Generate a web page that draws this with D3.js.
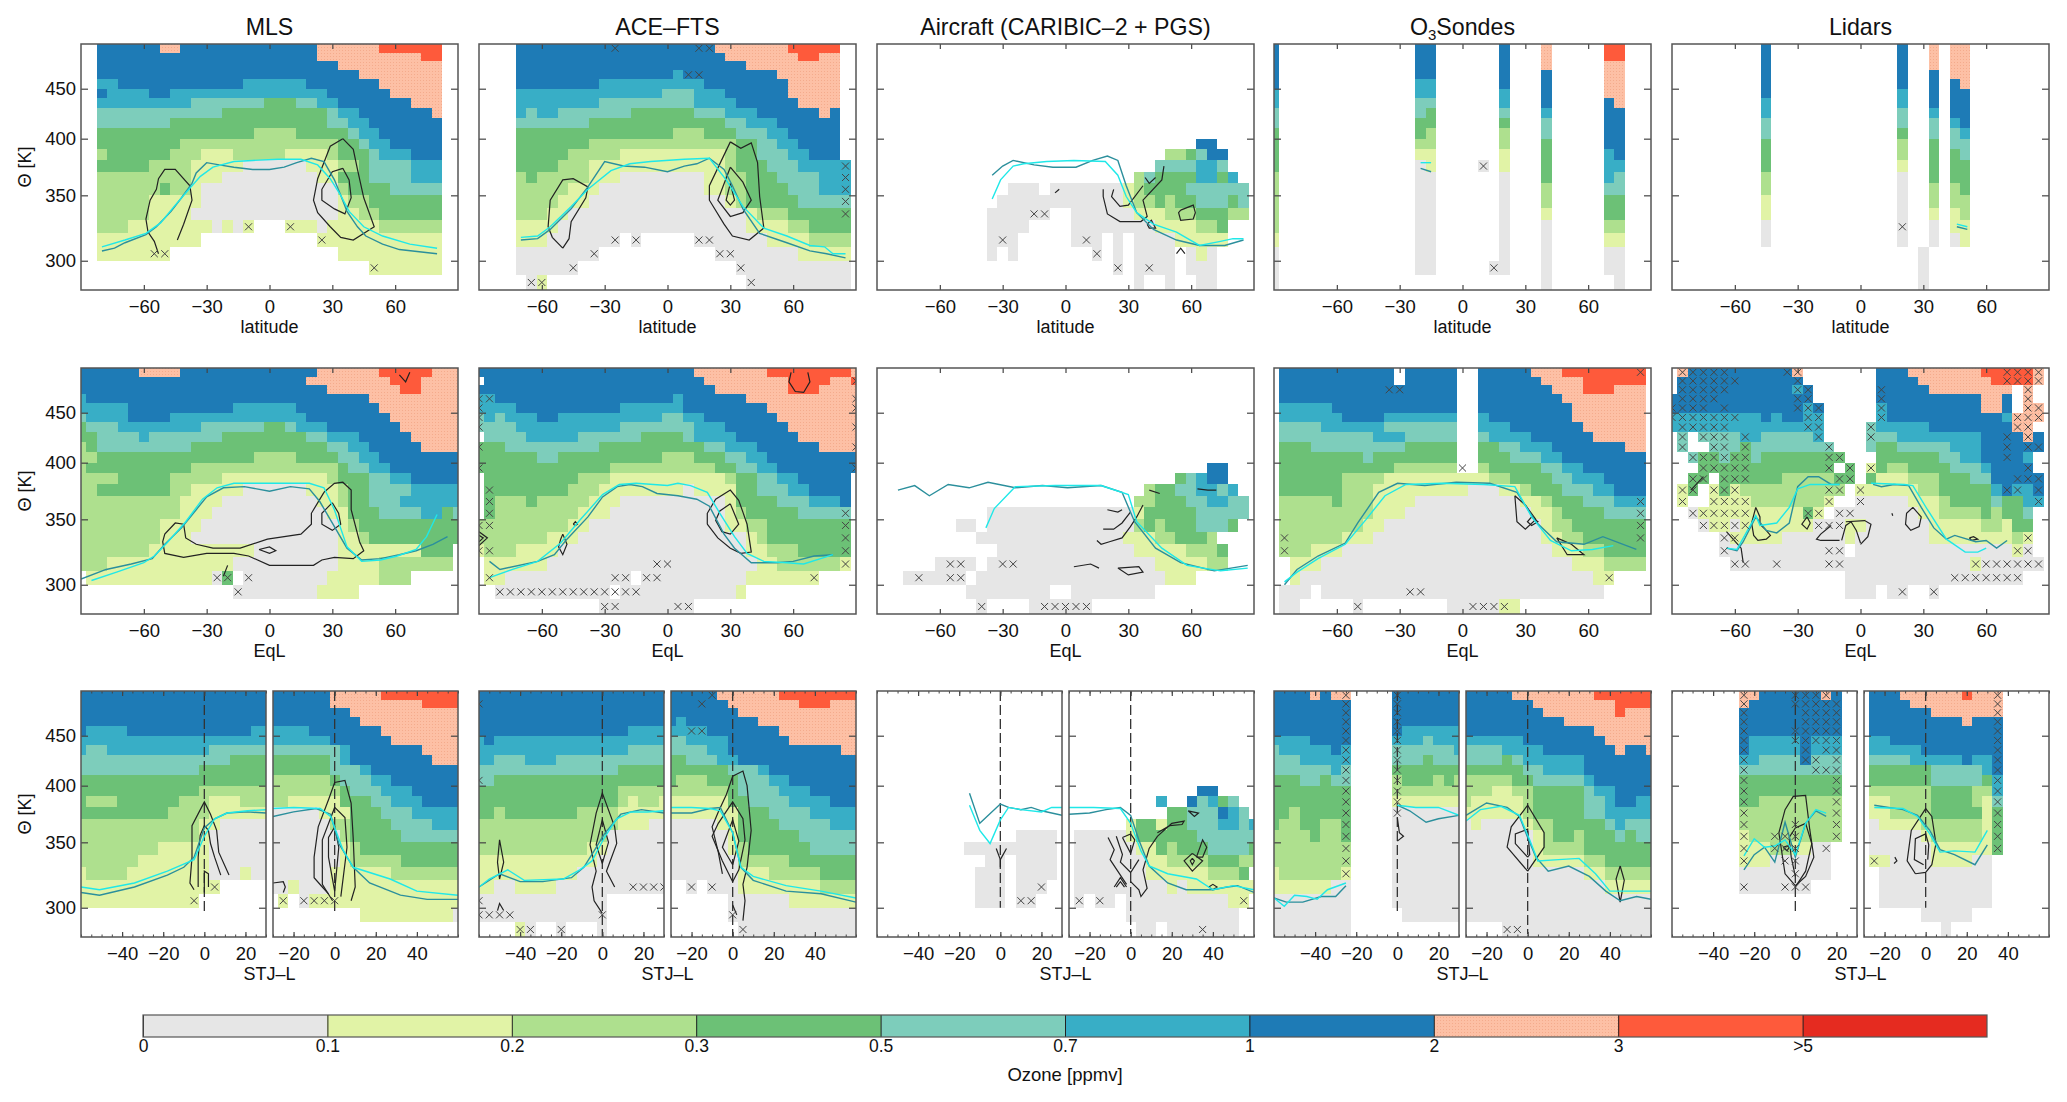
<!DOCTYPE html>
<html>
<head>
<meta charset="utf-8">
<script src="https://cdn.jsdelivr.net/npm/d3@7"></script>
<style>
  html, body { margin: 0; background: #fff; }
  svg text { font-family: "Liberation Sans", Arial, sans-serif; fill: #111; }
</style>
</head>
<body>
<div id="chart"></div>
<script>
// ozone bins, colours and bar labels
var binLabels = ["0", "0.1", "0.2", "0.3", "0.5", "0.7", "1", "2", "3", ">5"];
var binColors = ["#e6e6e6", "#e1f3a6", "#aee08e", "#6cc176", "#7dcdbb", "#38aec6", "#1e7bb6", "#fdc0a5", "#fe5a3b", "#e52b20"];
var latTicks = [-60, -30, 0, 30, 60];
var thetaTicks = [300, 350, 400, 450];
var thetaRows = d3.range(495, 280, -10);

// grids: one string per theta row (495 K at top), "6x13" = bin 6 for 13 cells, "_" = no data
var mlsLat = ["6x6 7x2 6x13 7x6 8x6","6x21 7x10 8x2","6x23 7x10","6x25 7x8","5x2 6x12 5x6 6x7 7x6","6 5x4 6x2 5x15 6x6 7x5","5x9 4x7 3x3 4x2 5x2 6x7 7x3","4x12 3x10 4 5x2 6x7 7","4x7 3x15 4x2 5x2 6x7","3x15 2x4 3x5 4 5x2 6x6","3x8 2x15 3x2 4 5x2 6x5","2 3x6 2x3 1x3 2x5 1x4 2 3x3 4 5x3 6x3","3x5 2x4 1x5 0x6 1x3 2x2 3 4x4 5x3","2x9 1x3 0x9 1x2 3x3 4x4 5x3","2x6 3 2x2 1 0x13 2 3x4 4x5","2x5 1x5 0x13 1 2x2 3x7","2x5 1x4 0x14 1x2 2x2 3x6","2x3 1x8 0 1 0 1 _x3 1x3 0 1x5 2x6","1x10 _x11 1x12","1x7 _x16 1x10","_x26 1x7",""];
var aceLat = ["6x19 7x7 8x5","6x20 7x7 8x2 7x2","6x22 7x9","6x15 5 6x9 7x6","6x8 5x10 6x8 7x5","5x14 4x3 5x3 6x6 7x5","5x8 4x9 5x4 6x6 7x4","5 4 5x2 4x7 3x6 4x3 5x3 6x6 7 6","4x7 3x13 4x2 5x3 6x6","3x15 2x3 3x3 4x3 5x2 6x5","3x7 2x14 3x2 4x2 5x2 6x4","3x5 2x5 1x10 2 3x2 4x3 5x2 6x3","3x4 2x3 1x13 2 3x3 4x3 5x4 5","2 3 2x5 1x3 0x8 1x2 2x2 3x3 4x4 5x3","2x5 1x3 0x10 1x2 2x2 3x4 4x3 5x3","2x4 1x3 0x13 1 2 3x5 4x5","2x3 1x2 0x17 1 2x3 3x6","1x4 0x18 1x4 2x2 3x4","1x3 0x7 _ 0 _x5 0x7 1x4 2x4","0x8 _x11 0x8 1x5","0x6 _x15 0x11","_ 0 1 _x19 0x10"];
var aircraftLat = ["","","","","","","","","","","_x20 6x2","_x17 2x2 3 4 6x2","_x16 4x4 5x2 4","_x14 2 4 3x4 5x2 3 5","_x2 0x3 _ 0x7 1 2 3x4 4x6","_ 0x12 1 2x2 3 2 3x2 4x3 3 4","0x6 _x2 0x6 1x3 2x3 3x3 2x2","0x4 _x4 0x8 1x4 2x2 3","0x3 _x5 0x3 _ 0 _ 0x4 1x5","0 _ 0 _x7 0 _ 0 _ 0x4 _ 0 1 0","_x12 0 _ 0x4 _ 0x3","_x14 0 _x2 0 _x2 0x2"];
var sondesLat = ["6 _x13 6x2 _x6 6 _x3 7 _x5 8x2","6 _x13 6x2 _x6 6 _x3 7 _x5 8x2","6 _x13 6x2 _x6 6 _x3 7 _x5 7x2","6 _x13 6x2 _x6 6 _x3 6 _x5 7x2","6 _x13 5x2 _x6 6 _x3 6 _x5 7x2","5 _x13 5x2 _x6 5 _x3 6 _x5 7x2","5 _x13 4x2 _x6 5 _x3 6 _x5 6 7","4 _x13 4 3 _x6 4 _x3 5 _x5 6x2","4 _x13 3x2 _x6 3 _x3 4 _x5 6x2","3 _x13 3 2 _x6 2 _x3 4 _x5 6x2","3 _x13 2x2 _x6 2 _x3 3 _x5 6x2","3 _x13 1x2 _x6 1 _x3 3 _x5 5 6","3 _x13 0 1 _x4 0 _ 1 _x3 3 _x5 5x2","2 _x13 0x2 _x6 0 _x3 3 _x5 5 4","2 _x13 0x2 _x6 0 _x3 2 _x5 4x2","2 _x13 0x2 _x6 0 _x3 2 _x5 3x2","2 _x13 0x2 _x6 0 _x3 1 _x5 3x2","2 _x13 0x2 _x6 0 _x3 0 _x5 2x2","1 _x13 0x2 _x6 0 _x3 0 _x5 1x2","0 _x13 0x2 _x6 0 _x3 0 _x5 0x2","0 _x13 0x2 _x5 0x2 _x3 0 _x5 0x2","0 _x25 0 _x6 0"];
var lidarLat = ["6 _x12 6 _x2 7 _ 7x2","6 _x12 6 _x2 7 _ 7x2","6 _x12 6 _x2 7 _ 7x2","6 _x12 6 _x2 6 _ 7x2","6 _x12 6 _x2 6 _ 6 7","6 _x12 5 _x2 6 _ 6x2","5 _x12 5 _x2 6 _ 6x2","5 _x12 4 _x2 5 _ 6x2","4 _x12 4 _x2 4 _ 5 6","4 _x12 3 _x2 4 _ 4 5","3 _x12 2 _x2 3 _ 4x2","3 _x12 2 _x2 3 _ 3 4","3 _x12 1 _x2 3 _ 3x2","2 _x12 0 _x2 3 _ 3x2","2 _x12 0 _x2 2 _ 2 3","1 _x12 0 _x2 2 _ 2x2","1 _x12 0 _x2 1 _ 1 2","0 _x12 0 _x2 0 _ 1x2","0 _x12 0 _x2 0 _ 0 1","_x15 0","_x15 0","_x15 0"];

var mlsEql = ["6x6 7x4 6x13 7x6 8x5 7x3","6x22 7x8 8x3 7x4","6x24 7x7 8x2 7x4","5 6x27 7x9","5x5 6x10 5x6 6x8 7x8","4 5x4 6x4 5x13 6x8 7x7","3 4x3 5x8 4x6 3x2 4 5x3 6x7 7x6","3x2 4x4 5 4x7 3x8 4x2 5x3 6x5 7x5","2 3 4x9 3x13 4x2 5x2 6x5 7x4","2x2 3x15 2x4 3x4 4x2 5x2 6x8","2 3x10 2x14 3 4x2 5x2 6x7","2x4 3x5 2x5 1x10 2 3x3 4x2 5x2 6x5","2x2 3x7 2x2 1x5 0x6 1x3 2 3x2 4x4 5x5","2x10 1x4 0x9 1x2 2 3x2 4x3 5x6","2x10 1x3 0x11 1x2 3x3 4x4 5x2 3 4","2x8 1x4 0x13 1 2 3x10","2x8 1x3 0x14 1x2 2 3x9","2x7 1x10 0x8 1x8 3x3 _","2x3 1x12 0x10 1x4 2x7 _","_ 1x12 0 3 _ 0x8 1x5 2x3 _x5","_x15 0x8 1x4",""];
var aceEql = ["6x21 7x7 8x8 7","_ 6x21 7x8 8x4 7x2 8","6x23 7x7 8x3 7x4","5x2 6x17 5 6x6 7x11","5x4 6x10 5x6 6x8 7x9","4 5 4 5x3 6x2 5x10 4x2 5x2 6x7 7x8","4x4 5x10 4x7 5x3 6x6 7x7","_ 4x4 5x5 4x6 3x4 4 5x4 6x6 7x6","3x3 4x9 3x10 4x2 5x3 6x6 7x4","3x6 4x2 3x10 2x3 3x3 4x2 5x2 6x9","3x13 2x10 3x2 4x2 5x2 6x8","_ 3x9 2x3 1x11 2 3x2 4x2 5x2 6x5 _","_ 3x8 2x3 1x8 0 1x4 3x2 4x3 5x2 6x4 _","_ 3 2x3 3 2x5 1x3 0x10 1 3x4 4x3 5x3 6 _","_ 3 2x8 1x3 0x11 1 2 3x5 4x5 _","2x9 1x2 0x13 1x2 2x2 3x8 _","2x7 1x3 0x16 1 2 3x8 _","1 2x3 1x4 0x18 1x2 2x3 3x5 _","_ 1x6 0x20 1x2 2x6 1 _","_ 1x2 0x12 _ 0x10 1x7","_x2 0x11 _ 0x11 1","_x12 0x9"];
var aircraftEql = ["","","","","","","","","","","_x29 6x2","_x26 3 4 5 6x2","_x23 2 3x2 4x2 5x2 4 5","_x22 2x2 3x3 4x2 5x2 4x2","_x8 0x14 1 3x5 4x5","_x5 0x2 _ 0x14 2 3 2 3x3 4x3 3","_x7 0x14 1x3 2x2 3x3 2","_x9 0x13 1x5 2x3 3","_x3 0x4 _ 0x16 1x5 2x2","0x6 _ 0x18 1x3","_x6 0x8 _x2 0x8","_x7 0 _x4 0x6"];
var sondesEql = ["6x11 _ 6x5 _x2 6x5 7x3 8x8","6x11 _ 6x5 _x2 6x6 7x4 8x6","6x17 _x2 6x7 7x3 8x3 7x3","6x17 _x2 6x8 7x8","5x5 6x12 _x2 6x9 7x7","5x6 6x4 5x7 _x2 5 6x8 7x7","4x4 5x6 4x7 _x2 5x3 6x7 7x6","4x9 5x3 4x5 _x2 4 5x4 6x6 7x5","3x3 4x9 3x5 _x2 3x2 4x2 5x3 6x7 7x2","3x8 4 3x8 _x2 3x3 4x3 5x2 6x8","3x11 2x6 _x2 2 3x5 4x2 5x2 6x6","3x6 2x4 1x10 2x2 3x4 4x2 5x3 6x4","3x6 2x3 1x9 0x3 1x2 2 3x3 4x3 5x2 6x3","2x5 3 2x3 1x4 0x10 1x2 2 3x3 4x3 5x3","2x9 1x3 0x12 1x2 2 3x4 4x4","2x8 1x2 0x15 1 2x2 3x7","2x6 1x3 0x16 1x2 2x2 3x6","2x3 1x3 0x20 1x3 2x2 3x4","_ 1x3 0x24 1x3 2x4","_ 1 0x28 1x2","0x3 _ 0x27","0x2 _x5 0 _x8 0x5 1x2"];
var lidarEql = ["_ 7 6x10 7 _x7 6x3 7x7 8x5 7 _","_ 6x12 _x7 6x4 7x7 8x4 7 _","_ 6x11 5 6 _x6 6x5 7x8 _ 7 _x2","6x14 _x6 6x10 7x2 6 _ 7 _x2","6x13 5 6 _x5 5 6x9 7x2 6 _ 7x2 _","5x9 6 5 6x2 5x2 _x5 5 6x11 5 7x3 _","5x15 _x4 4 5x5 6x8 7x2 _x2","_ 4 _ 4x4 5x2 4x5 5 _x4 4x3 5x8 6x4 7 6 _","_ 4 _x2 4x3 3 4x7 4 _x3 4 3x2 4x5 5x3 6x5 6 _","_x2 4 3x2 4 3x2 4 3x6 3x2 _x3 3x6 4x2 5x2 6x4 5 _x2","_x3 3x6 3x7 _ 3 _ 1 3 2x2 3x4 4x3 5 6x4 _x2","_x2 3x2 _ 3x6 2x5 3x2 _ 3 1x3 2x3 3x3 4x2 6x4 6 _","_ 1 3 _ 1 3 1 2x8 2x2 _ 1x6 2x2 3x5 5 6 5x2 6 _","_ 1 _x2 1x4 2x7 1 _x2 0x5 1x3 2 3x4 4 3x2 5x2 _","_x2 0 1x4 1x6 3 1 _ 0x8 1x2 2x4 3 2 3x2 4 _x2","_x3 0 1x2 0 1x7 0x3 1x2 0x6 1x5 2x2 1 3x2 _x2","_x5 0 1x5 0x6 1 0x7 1x7 1 2 1 _x2","_x5 0x12 _ 0x15 1 0 _x2","_x6 0x23 1 0x6 _","_x17 0x17","_x17 0x3 _ 0x2 _x2 0",""];

var mlsStjS = ["6x19","6x19","6x19","6x19","6 5x4 6x12 5x2","5x19","5 4x2 5x10 4x6","4x15 3x4","4x12 3x7","3x19","3x12 2x7","3 2x3 3x6 2x3 1x3 2x3","3x9 2x4 1x6","2x12 1x2 0x5","2x12 1 0x6","2x8 1x4 1 0x6","2x6 1x6 1 0x6","1 2x4 1x8 0x3 1 0x2","1x14","1x12","",""];
var mlsStjN = ["6x6 7x5 8x8","6x6 7x9 8x4","6x8 7x11","6x9 7x10","5x4 6x7 7x8","5x6 6x6 7x7","4x7 5 6x7 7x4","3x6 4 5 6x8 7x3","3x6 4x3 5 6x9","2x6 3 4x3 5x2 6x7","2x6 2 3 4x3 5x3 6x5","2x2 1x4 1 3x3 4x2 5x3 6x4","0x5 1x3 3x3 4x3 5x5","0x6 2x2 3x4 4x4 5x3","0x7 2 3x5 4x6","0x7 1 2 3x10","0x7 1 2x5 3x6","0x6 1x6 2x7","0x2 1 0x3 1x13","_ 1 _ 0 1x15","_x9 1x9 0",""];
var aceStjS = ["6x19","6x19","6x19","6x19","6x15 5x4","5 6 5x17","5x15 4x4","5x2 4x3 5x3 4x11","4x14 3x5","4x2 3x17","3x14 2x5","3x14 2 1 2x2 1","3x2 2 3x7 2x4 1x5","2x14 1x3 0x2","2x13 0x6","2x11 1x2 0x6","1x12 0x7","1x10 0x9","1x2 0x2 1x4 0x11","0x13","0x13","_x4 1 0 _x2 0 _x3 0"];
var aceStjN = ["6x5 7x6 8x8","6x6 7x7 8x3 7x3","6x7 7x12","6 5 6x7 7x10","5x4 6x7 7x8","4x2 5x4 6x6 7x7","4x4 5x2 6x11 7x2","3x2 4x3 5 5 6x12","3x6 4x3 5 6x9","3 2x3 3x3 4x3 5x2 6x7","2x6 3 4x4 5x3 6x5","1x6 3x2 4x4 5x4 6x3","1x7 3x3 4x4 5x5","0x5 1x2 3x4 4x5 5x3","0x6 1 3x6 4x6","0x6 1 2 3x6 4x5","0x7 2x5 3x7","0x7 1x3 2x5 3x4","_x2 0 _ 0x3 1x8 2x4","_x6 0x6 1x7","_x6 0x13","_x7 0x12"];
var aircraftStjS = ["","","","","","","","","","","","","","","_x5 0x4","0x9","_x2 0x2 _ 0x4","_ 0x3 _ 0x4","_ 0x3 _ 0x3","_ 0x3 _ 0x2","",""];
var aircraftStjN = ["","","","","","","","","","","_x13 6x2","_x9 5 _x2 6 4 5 3 4","_x10 3x2 4x3 6 5 4","_x6 1 3x2 1 3x2 4x3 5x2 4 5","_ 0x5 1 3x6 4x6","_ 0x6 1x2 3 2 3x3 4x4 3","_ 0x7 1x2 2x4 3x3 2x2","_ 0x7 1x6 2x3 3","_ 0x9 1 0 1x7","_ 0 _ 0x2 _ 0x10 1x2","_x6 0x11","_x7 0x2 _ 0x7"];
var sondesStjS = ["6x4 7 6 7x2 _x4 6x7","6x8 _x4 6x7","6x8 _x4 6x7","6x8 _x4 6x7","6x8 _x4 6 5x6","5x4 6x4 _x4 5x3 4 5x3","4 5x5 6 5 _x4 4x6 5","4x3 5x5 _x4 4x3 3 4x3","4x6 5 4 _x4 3x7","3x3 4x2 3 4x2 _x4 2 3x3 2 3 2","3x8 _x4 2x7","3x8 _x4 1x7","3x2 2 3x5 _x4 0x7","3 2x2 3x2 2x2 3 _x4 0x7","2x4 3 2x2 3 _x4 0x7","2x8 _x4 0x7","2x8 _x4 0x7","1 2x6 1 _x4 0x7","1x6 0x2 _x4 0x7","0x8 _x4 0x7","0x8 _x5 0x6","0x8"];
var sondesStjN = ["6x5 7x8 8x6","6x7 7x8 8x4","6x8 7x7 8 7x3","6x10 7x9","6x13 7x6","5x6 6x8 7x5","4x4 5x4 6x7 7 6x2 7","4x4 3 4 5x6 6x7","3x6 4x2 5x4 6x7","2x5 3x2 4x5 5 6x6","2x3 1x2 2x2 3x5 4 5x2 6x4","2 1x5 2 3x5 4x2 5 6x2 5x2","1x6 2 3x5 4x2 5x5","0 1 0x4 1 2x2 3x5 4 5 4x3","0x7 1 2 3x2 2 3x3 4 3 4x2","0x7 1 2x4 3x7","0x7 1x5 2x2 3x5","0x12 1x2 2x5","0x14 1x5","0x19","0x19","_x4 0x15"];
var lidarStjS = ["7x2 6x6 7 6","7 6x9","6x10","6x10","6x10","6 5x5 6 5x3","6 5x5 6 5x3","5x2 4x4 6 4x3","4x10","3x10","3x10","3x2 2x8","2x10","2x10","1 2x9","1x3 2x2 1x2 0x2","1x3 0x6","0x9","0x7","","",""];
var lidarStjN = ["6x3 7x6 8 7x3","6x4 7x9","6x6 7x7","6x9 7 6x3","6x13","5x2 6x11","5x5 6x8","4x4 5x5 6 5x2 6","3x6 4x5 5 6","3x6 4x5 3 5","2x6 3x4 2x2 5","1x2 2x4 3x4 2 1 4","1x2 2x4 3x5 1 3","0 1x4 2x6 1 3","0x5 1 2x5 1 3","0x6 1x6 3","1x2 0x4 1x4 0x2","_ 0x11","_ 0x11","_ 0x11","_x5 0x5","_x7 0"];

// flagged cells: [theta, [x positions]]
var crossMlsLat = [[325,[-10,10]],[315,[25]],[305,[-55,-50]],[295,[50]]];
var crossAceLat = [[495,[-25,15,20]],[465,[10,15]],[375,[85]],[365,[85]],[355,[85]],[345,[85]],[335,[85]],[315,[-25,-15,15,20]],[305,[-35,25,30]],[295,[-45,35]],[285,[-65,-60,40]]];
var crossAircraftLat = [[335,[-15,-10]],[315,[-30,10]],[305,[15]],[295,[25,40]]];
var crossSondesLat = [[375,[10]],[295,[15]]];
var crossLidarLat = [[325,[20]]];
var crossMlsEql = [[305,[-25,-20,-10]],[295,[-15]]];
var crossAceEql = [[485,[90]],[465,[-90,-85,90]],[455,[-90,90]],[445,[-90]],[435,[-90,90]],[415,[-90,90]],[395,[-90,90]],[375,[-85]],[365,[-85]],[355,[-85,85]],[345,[-90,-85,85]],[335,[85]],[325,[-90,-85,85]],[315,[-5,0,85]],[305,[-85,-25,-20,-10,-5,70]],[295,[-80,-75,-70,-65,-60,-55,-50,-45,-40,-35,-30,-25,-20,-15]],[285,[-30,-25,5,10]]];
var crossAircraftEql = [[315,[-55,-50,-30,-25]],[305,[-70,-55,-50]],[285,[-40,-10,-5,0,5,10]]];
var crossSondesEql = [[495,[85]],[475,[-35,-30]],[395,[0]],[365,[85]],[355,[85]],[345,[85]],[335,[-85,85]],[325,[-85]],[305,[70]],[295,[-25,-20]],[285,[-50,5,10,15,20]]];
var crossLidarEql = [[495,[-85,-80,-75,-70,-65,-35,-30,70,75,80,85]],[485,[-85,-80,-75,-70,-65,-60,-30,70,75,80,85]],[475,[-85,-80,-75,-70,-65,-30,-25,10,80]],[465,[-85,-80,-75,-70,-30,-25,10,80]],[455,[-90,-85,-80,-75,-65,-30,-25,-20,10,80,85]],[445,[-90,-85,-80,-75,-70,-65,-60,-25,-20,10,75,80,85]],[435,[-85,-80,-75,-70,-65,-25,-20,5,75,80]],[425,[-85,-75,-70,-65,-55,-20,5,70,80]],[415,[-85,-70,-65,-55,-15,70,80,85]],[405,[-80,-75,-70,-65,-60,-55,-15,-10,70]],[395,[-75,-70,-65,-60,-55,-15,-5,5,80]],[385,[-80,-75,-65,-60,-55,-10,-5,75,80,85]],[375,[-85,-80,-70,-65,-60,-15,-10,0,70,75,85]],[365,[-85,-70,-65,-60,-55,-15,0,85]],[355,[-80,-75,-70,-65,-60,-55,-25,-20,-10,-5]],[345,[-75,-70,-65,-60,-55,-20,-15,-10]],[335,[-65,-60,80]],[325,[-65,-15,-10,75,80]],[315,[-60,-55,-40,-15,-10,55,60,65,70,75,80,85]],[305,[45,50,55,60,65,70,75]],[295,[20,35]]];
var crossMlsStjS = [[315,[5]],[305,[-5]]];
var crossMlsStjN = [[305,[-25,-15,-10,-5,0]]];
var crossAceStjS = [[485,[-60]],[405,[-60]],[315,[15,20,25,30]],[305,[-60]],[295,[-60,-55,-50,-45,0]],[285,[-40,-35,-20]]];
var crossAceStjN = [[495,[-10]],[485,[-15]],[455,[-20,-15]],[315,[-20,-10]],[295,[0]],[285,[5]]];
var crossAircraftStjS = [[315,[20]],[305,[10,15]]];
var crossAircraftStjN = [[305,[-25,-15,55]],[285,[35]]];
var crossSondesStjS = [[495,[-25,0]],[485,[-25,0]],[475,[-25,0]],[465,[-25,0]],[455,[-25,0]],[445,[-25,0]],[435,[-25,0]],[425,[-25,0]],[415,[-25,0]],[405,[-25,0]],[395,[-25,0]],[385,[-25,0]],[375,[-25,0]],[365,[-25]],[355,[-25]],[345,[-25]],[335,[-25]],[325,[-25]]];
var crossSondesStjN = [[285,[-10,-5]]];
var crossLidarStjS = [[495,[-25,0,5,10,15]],[485,[-25,0,5,10,15,20]],[475,[-25,5,10,15,20]],[465,[-25,5,10,15,20]],[455,[-25,0,5,10,15,20]],[445,[-25,0,5,10,15,20]],[435,[-25,5,15,20]],[425,[-25,5,10,20]],[415,[-25,10,15,20]],[405,[-25,20]],[395,[-25,20]],[385,[-25,20]],[375,[-25,20]],[365,[-25,0,20]],[355,[-25,-10,-5,0,20]],[345,[-25,-10,-5,0,15]],[335,[-25,-5,0]],[325,[0]],[315,[-25,-5,0,5]]];
var crossLidarStjN = [[495,[35]],[485,[35]],[475,[35]],[465,[35]],[455,[35]],[445,[35]],[435,[35]],[425,[35]],[415,[35]],[405,[35]],[395,[35]],[385,[35]],[375,[35]],[365,[35]],[355,[35]],[345,[35]],[335,[-25]]];

// tropopause lines: dark teal and cyan, [x, theta]
var tealMlsLat = [[-80,307],[-74,309],[-69,313],[-59,319],[-54,325],[-47,337],[-42,348],[-37,360],[-35,369],[-30,378],[-24,376],[-17,374],[-8,372],[0,372],[7,374],[13,378],[20,382],[26,379],[31,363],[34,350],[37,337],[42,325],[46,318],[54,312],[62,308],[80,305]];
var cyanMlsLat = [[-80,310],[-69,315],[-59,320],[-52,328],[-46,340],[-39,354],[-33,366],[-27,374],[-17,379],[-8,380],[4,381],[15,381],[23,376],[29,364],[34,350],[38,337],[45,325],[54,318],[67,312],[80,309]];
var tealAceLat = [[-70,315],[-62,316],[-56,323],[-46,339],[-38,357],[-30,379],[-21,375],[-11,374],[0,370],[8,375],[14,377],[20,382],[27,372],[31,358],[36,339],[44,320],[57,313],[68,307],[76,305],[85,302]];
var cyanAceLat = [[-70,317],[-62,318],[-56,325],[-46,341],[-38,355],[-27,371],[-18,377],[-8,379],[8,381],[20,382],[28,363],[36,341],[46,324],[57,318],[68,311],[75,310],[79,305],[85,305]];
var tealAircraftLat = [[-35,367],[-30,375],[-25,380],[-15,376],[-6,374],[5,374],[13,380],[20,384],[25,380],[29,358],[34,336],[42,323],[53,315],[64,311],[76,311],[85,315]];
var cyanAircraftLat = [[-35,347],[-31,363],[-25,375],[-20,377],[-9,379],[4,380],[19,379],[25,367],[29,349],[34,336],[42,327],[53,321],[64,311],[74,314],[80,316],[85,316]];
var tealSondesLat = [[-20,373],[-15,370]];
var cyanSondesLat = [[-20,378],[-15,378]];
var tealLidarLat = [[46,325],[51,323]];
var cyanLidarLat = [[46,327],[51,325]];
var tealMlsEql = [[-90,304],[-78,311],[-66,315],[-56,319],[-50,330],[-42,343],[-35,358],[-30,369],[-22,377],[-12,378],[0,374],[10,378],[19,376],[24,365],[31,344],[37,327],[44,318],[53,319],[62,322],[70,325],[78,330],[85,336]];
var cyanMlsEql = [[-85,303],[-73,309],[-60,316],[-55,321],[-49,331],[-40,348],[-32,367],[-25,377],[-17,381],[-1,381],[19,381],[26,377],[31,358],[37,328],[44,317],[53,318],[61,321],[70,326],[75,336],[80,354]];
var tealAceEql = [[-85,317],[-80,311],[-62,317],[-54,322],[-48,334],[-38,352],[-31,369],[-24,378],[-18,380],[-12,378],[-5,372],[5,370],[14,367],[20,361],[27,338],[32,327],[40,316],[52,316],[60,317],[70,321],[79,322]];
var cyanAceEql = [[-85,305],[-74,311],[-62,317],[-51,331],[-42,349],[-31,371],[-23,380],[-15,381],[0,379],[5,381],[11,379],[19,373],[25,355],[32,336],[38,323],[46,317],[57,316],[65,315],[75,320],[79,322]];
var tealAircraftEql = [[-80,375],[-72,379],[-65,370],[-56,380],[-46,377],[-37,382],[-24,377],[-11,379],[1,377],[17,379],[27,373],[33,348],[43,327],[55,316],[71,310],[87,314]];
var cyanAircraftEql = [[-38,343],[-34,359],[-24,378],[-5,379],[17,379],[30,371],[34,348],[46,327],[58,314],[74,310],[87,312]];
var tealSondesEql = [[-85,300],[-79,311],[-69,321],[-56,331],[-50,347],[-40,373],[-31,381],[-18,379],[-3,382],[13,381],[26,373],[35,348],[45,332],[58,330],[67,336],[83,326]];
var cyanSondesEql = [[-85,302],[-79,309],[-69,319],[-56,330],[-46,350],[-37,370],[-27,380],[-10,381],[10,380],[25,378],[33,352],[42,333],[52,325],[62,326],[72,329]];
var tealLidarEql = [[-64,327],[-59,325],[-56,332],[-50,352],[-45,341],[-40,339],[-34,347],[-30,378],[-25,387],[-20,387],[-14,380],[-10,380],null,[6,380],[10,378],[16,380],[23,379],[29,360],[35,343],[41,334],[45,337],[55,332],[60,333],[65,327],[70,333]];
var cyanLidarEql = [[-64,327],[-59,326],[-50,353],[-48,345],[-40,347],[-34,360],[-30,376],[-24,380],[-16,380],[-10,380],null,[5,381],[21,380],[25,379],[32,358],[41,334],[50,324],[56,324],[60,327]];
var tealMlsStjS = [[-60,311],[-51,309],[-34,315],[-18,324],[-10,330],[-5,338],[0,362],[5,370],[11,375],[21,376],[30,375]];
var cyanMlsStjS = [[-60,315],[-51,313],[-34,318],[-18,327],[-5,336],[0,355],[5,370],[11,375],[21,377],[30,378]];
var tealMlsStjN = [[-30,372],[-20,376],[-9,379],[-2,374],[2,349],[9,330],[17,318],[32,309],[45,306],[60,306]];
var cyanMlsStjN = [[-30,379],[-20,380],[-7,379],[-2,372],[4,344],[9,330],[27,321],[40,312],[60,309]];
var tealAceStjS = [[-60,315],[-50,325],[-40,319],[-29,319],[-15,322],[-9,330],[-4,343],[1,357],[9,374],[19,378],[30,375]];
var cyanAceStjS = [[-60,315],[-55,321],[-46,328],[-38,320],[-19,321],[-11,328],[-5,335],[1,354],[7,370],[14,376],[22,376],[30,377]];
var tealAceStjN = [[-30,375],[-20,375],[-11,379],[-6,380],[0,358],[4,330],[10,320],[26,312],[43,310],[60,304]];
var cyanAceStjN = [[-30,380],[-20,380],[-11,379],[-6,377],[0,358],[4,330],[10,323],[26,316],[43,312],[60,307]];
var tealAircraftStjS = [[-15,393],[-10,366],[0,383],[4,380],[10,378],[15,380],[20,377],[30,373]];
var cyanAircraftStjS = [[-15,382],[-10,360],[-5,349],[0,369],[4,380],[10,378],[20,376],[25,380],[30,380]];
var tealAircraftStjN = [[-30,374],[-20,375],[-12,378],[-5,380],[0,373],[4,352],[9,331],[18,318],[27,313],[40,313],[47,315],[52,316],[60,311]];
var cyanAircraftStjN = [[-30,380],[-18,380],[-5,379],[0,366],[5,343],[9,331],[18,325],[32,321],[40,313],[50,316],[60,313]];
var tealSondesStjS = [[-60,307],[-54,304],[-46,304],[-37,308],[-30,308],[-25,316],null,[0,382],[6,377],[14,367],[20,370],[30,373]];
var cyanSondesStjS = [[-60,307],[-55,301],[-50,309],[-44,308],[-39,306],[-34,313],[-25,318],null,[0,382],[9,380],[20,380],[30,373]];
var tealSondesStjN = [[-30,373],[-20,384],[-10,380],[-4,372],[0,354],[4,338],[10,327],[20,331],[30,323],[38,312],[45,305],[53,308],[60,306]];
var cyanSondesStjN = [[-30,368],[-23,378],[-13,381],[-4,373],[1,352],[5,335],[15,336],[25,337],[33,325],[40,312],[53,312],[60,312]];
var tealLidarStjS = [[-25,328],[-20,340],[-15,346],[-10,334],[-5,367],[0,338],[5,366],[10,377],[15,372]];
var cyanLidarStjS = [[-25,339],[-20,353],[-15,346],[-10,347],[-5,352],[0,340],[5,366],[10,378],[15,375]];
var tealLidarStjN = [[-25,382],[-11,378],[-4,373],[2,360],[7,344],[14,340],[24,332],[30,348]];
var cyanLidarStjN = [[-25,380],[-11,379],[-4,372],[2,357],[7,342],[14,343],[24,342],[30,360]];

// PV-gradient contours, each an open or closed path of [x, theta]
var contourMlsLat = [[[-44,315],[-41,327],[-37,346],[-38,358],[-45,372],[-50,372],[-53,364],[-54,355],[-57,346],[-59,331],[-58,321],[-55,314],[-53,305]],[[35,400],[40,390],[42,372],[45,348],[50,325],[40,315],[34,317],[29,325],[23,336],[21,346],[23,364],[29,393],[35,400]],[[35,373],[38,363],[39,348],[36,335],[31,339],[25,346],[25,355],[30,370],[35,373]]];
var contourAceLat = [[[-50,309],[-55,317],[-57,325],[-56,346],[-50,363],[-45,364],[-38,357],[-39,348],[-46,329],[-47,316],[-50,309]],[[30,397],[35,391],[40,396],[43,378],[44,349],[46,324],[39,315],[31,318],[27,327],[20,346],[20,358],[30,397]],[[30,374],[36,361],[40,346],[36,336],[30,333],[24,346],[30,374]],[[30,360],[32,346],[30,342],[28,346],[30,360]]];
var contourAircraftLat = [[[47,375],[46,363],[37,346],[39,333],[36,329],[26,329],[20,335],[18,349],[18,355]],[[23,355],[22,349],[26,341],[30,342],[37,358]],[[38,365],[40,360],[43,365]],[[55,338],[61,342],[62,336],[61,331],[55,330],[54,336],[55,338]],[[53,305],[55,309],[57,305]],[[39,327],[41,330],[43,324],[40,324],[39,327]],[[-5,352],[-3,355]]];
var contourMlsEql = [[[26,373],[31,381],[35,382],[39,375],[39,358],[43,332],[45,325],[40,319],[31,320],[25,318],[21,314],[0,314],[-10,321],[-17,323],[-30,323],[-41,320],[-50,323],[-51,332],[-50,338],[-45,347],[-41,346],[-40,335],[-35,330],[-27,327],[-14,327],[-1,334],[15,338],[20,346],[20,355],[26,373]],[[30,364],[33,355],[34,346],[30,341],[25,346],[25,355],[30,364]],[[-5,326],[0,328],[3,325],[0,323],[-5,326]],[[62,492],[65,484],[67,495]],[[-22,306],[-20,314]]];
var contourAceEql = [[[19,346],[19,355],[23,367],[30,375],[34,366],[36,356],[38,346],[40,324],[35,323],[30,327],[24,335],[19,346]],[[30,363],[34,346],[30,338],[26,340],[23,349],[25,357],[30,363]],[[-50,338],[-48,330],[-50,322],[-52,328],[-51,334],[-50,338]],[[59,495],[58,484],[61,473],[65,472],[68,484],[67,495]],[[-45,346],[-44,348],[-43,346],[-44,345],[-45,346]],[[-90,340],[-86,335],[-90,329]],[[-90,337],[-88,335],[-90,332]]];
var contourAircraftEql = [[[37,362],[34,352],[31,344],[27,335],[21,332],[17,330],[15,333]],[[31,356],[27,347],[23,342],[18,342]],[[25,312],[35,313],[37,309],[30,307],[25,312]],[[63,376],[68,375],[72,375]],[[40,375],[45,372]],[[4,313],[12,315],[16,312]],[[20,358],[25,356],[27,358]]];
var contourSondesEql = [[[25,370],[30,362],[35,350],[30,342],[26,348],[25,370]],[[45,335],[52,330],[58,322],[50,322],[45,335]],[[33,352],[36,348],[33,345],[31,348],[33,352]]];
var contourLidarEql = [[[-50,360],[-48,352],[-48,346],[-45,341],[-43,337],[-45,334],[-49,333],[-51,337],[-52,347],[-50,360]],[[-25.5,352],[-24,347],[-25.5,342],[-28,346],[-25.5,352]],[[-14,345],[-19,338],[-21,334],[-19,333],[-10,333]],[[-9,333],[-7,345],[-4.5,348],[-2,341],[0,331]],[[-7,348],[2,349],[5,346],[3.5,336],[0,330]],[[25,360],[29,352],[28,344],[24,341],[21.5,346],[22,355],[25,360]],[[52,335],[54,336],[56,334],[53,333],[52,335]],[[-64,340],[-57,327],[-56,316]],[[-81,375],[-75,387]],[[15,355],[15.4,353]]];
var contourMlsStjS = [[[-5,313],[-7,318],[-6,338],[-6,364],[0,385],[3,374],[6,360],[7,342],[12,324]],[[-3,315],[-3,338],[-2,356],[0,364],[2,360],[3,349],[5,338],[8,324]],[[0,311],[0,327],[2,325],[2,315]]];
var contourMlsStjN = [[[-3,310],[-6,315],[-10,322],[-10,338],[-8,363],[-3,387],[0,403],[5,405],[8,384],[9,354],[10,315],[8,305]],[[-1,305],[-6,317],[-6,352],[0,380],[5,371],[6,346],[3,308]],[[0,312],[-3,338],[-3,354],[0,363],[2,346],[0,312]],[[-30,318],[-25,319],[-24,315],[-25,311]]];
var contourAceStjS = [[[-50,352],[-51,334],[-50,321],[-48,334],[-50,352]],[[0,296],[-4,305],[-5,315],[-3,327],[-6,348],[-3,375],[0,393],[6,363],[7,349],[2,327],[6,315]],[[0,333],[-3,348],[0,369],[3,350],[0,333]],[[-51,298],[-50,303],[-48,298]]];
var contourAceStjN = [[[5,291],[6,305],[5,317],[7,330],[9,360],[7,400],[5,414],[0,409],[-3,392],[-7,376],[-10,363],[-7,342],[-5,325]],[[0,319],[-5,335],[-10,355],[-7,366],[0,385],[5,370],[6,352],[3,328],[0,319]],[[0,332],[-5,346],[0,369],[3,351],[0,332]],[[0,302],[2,295]]];
var contourAircraftStjS = [[[0,336],[-2,345]],[[0,336],[3,345]],[[0,336],[0,330]]];
var contourAircraftStjN = [[[-11,354],[-8,344],[-10,336],[-5,324],[-2,317]],[[-7,355],[-4,340],[-5,334],[0,326],[4,336]],[[0,319],[4,313],[5,308],[8,314],[6,328],[9,345],[13,355],[20,366],[26,368],[25,365],[19,364],[13,358]],[[-4,354],[0,357],[2,352],[0,341],[-4,354]],[[30,341],[35,335],[30,327],[26,335],[30,341]],[[30,337],[31,335],[30,332],[29,335],[30,337]],[[32,338],[35,352],[37,346],[35,338],[32,338]],[[28,377],[33,375],[31,372],[28,377]],[[-8,315],[-5,322],[-2,315]],[[-7,315],[-5,319],[-3,315]],[[38,315],[40,317],[42,315],[40,313],[38,315]]];
var contourSondesStjS = [[[0,371],[1,358],[3,355],[0,351]]];
var contourSondesStjN = [[[0,327],[-10,346],[-8,363],[0,382],[8,358],[8,346],[0,327]],[[0,338],[-6,349],[-6,357],[0,361],[1,340],[0,338]],[[45,331],[43,321],[45,304],[47,320],[45,331]]];
var contourLidarStjS = [[[0,316],[-5,325],[-8,358],[-5,378],[-1,390],[5,391],[7,361],[9,338],[5,323],[0,316]],[[0,323],[-2,338],[-3,354],[0,362],[5,366],[8,349],[5,327],[0,315]],[[-6,346],[-4,343],[-3,346],[-4,347],[-6,346]]];
var contourLidarStjN = [[[-5,325],[-9,335],[-7,360],[0,379],[3,372],[5,349],[3,332],[0,326],[-5,325]],[[-1,332],[-5.5,336],[-5,353],[0,357],[1.5,348],[1,336]],[[-15,338],[-14,335],[-15.4,333]]];

var width = 2067, height = 1102;
var stroke = "#555", markColor = "#444";

var svg = d3.select("#chart").append("svg")
    .attr("width", width)
    .attr("height", height)
    .style("display", "block");

var defs = svg.append("defs");

// light stipple on the salmon bin
var stipple = defs.append("pattern")
    .attr("id", "stipple")
    .attr("width", 3).attr("height", 3)
    .attr("patternUnits", "userSpaceOnUse");
stipple.append("rect").attr("width", 3).attr("height", 3).attr("fill", binColors[7]);
stipple.append("rect").attr("width", 1).attr("height", 1).attr("fill", "#f4ab8c");

function binFill(b) { return b == 7 ? "url(#stipple)" : binColors[b]; }

var rowTop = [44, 368, 691], panelH = 246, panelW = 377, subW = 185;
var colLeft = [81, 479, 877, 1274, 1672];
var rowXLabel = ["latitude", "EqL", "STJ\u2013L"];
var colTitle = ["MLS", "ACE\u2013FTS", "Aircraft (CARIBIC\u20132 + PGS)", null, "Lidars"];

// expand the run strings into cells
function decodeRows(rows, start) {
  var cells = [];
  rows.forEach(function(row, i) {
    var c = 0;
    row.split(" ").forEach(function(tok) {
      if (!tok) return;
      var p = tok.split("x"), n = p.length > 1 ? +p[1] : 1;
      for (var k = 0; k < n; k++, c++) {
        if (p[0] != "_") cells.push({lat: start + c * 5, theta: thetaRows[i], bin: +p[0]});
      }
    });
  });
  return cells;
}

var clipId = 0;
function drawPanel(o) {
  var x = d3.scaleLinear().domain(o.domain).range([0, o.w]);
  var y = d3.scaleLog().domain([280, 500]).range([panelH, 0]);
  var g = svg.append("g").attr("transform", "translate(" + o.left + "," + o.top + ")");

  var id = "clip" + (clipId++);
  defs.append("clipPath").attr("id", id).append("rect").attr("width", o.w).attr("height", panelH);
  var inner = g.append("g").attr("clip-path", "url(#" + id + ")");

  inner.append("g").selectAll("rect")
    .data(decodeRows(o.rows, o.start))
    .join("rect")
      .attr("x", function(d) { return x(d.lat - 2.5); })
      .attr("width", function(d) { return x(d.lat + 2.5) - x(d.lat - 2.5); })
      .attr("y", function(d) { return y(d.theta + 5); })
      .attr("height", function(d) { return y(d.theta - 5) - y(d.theta + 5); })
      .attr("fill", function(d) { return binFill(d.bin); })
      .attr("shape-rendering", "crispEdges");

  // zero line for the jet-relative panels
  if (o.zeroTo) {
    inner.append("line")
      .attr("x1", x(0)).attr("x2", x(0))
      .attr("y1", y(500)).attr("y2", y(o.zeroTo))
      .attr("stroke", "#333").attr("stroke-width", 1.3)
      .attr("stroke-dasharray", "10,4");
  }

  var line = d3.line()
    .defined(function(d) { return d; })
    .x(function(d) { return x(d[0]); })
    .y(function(d) { return y(d[1]); });

  inner.append("g").selectAll("path")
    .data(o.contours || [])
    .join("path")
      .attr("d", line).attr("fill", "none")
      .attr("stroke", "#222").attr("stroke-width", 1.2);

  inner.append("path").datum(o.teal || []).attr("d", line)
    .attr("fill", "none").attr("stroke", "#2b8f9c").attr("stroke-width", 1.4);
  inner.append("path").datum(o.cyan || []).attr("d", line)
    .attr("fill", "none").attr("stroke", "#1fe8e8").attr("stroke-width", 1.4);

  var crosses = [];
  (o.crosses || []).forEach(function(r) {
    r[1].forEach(function(lat) { crosses.push([lat, r[0]]); });
  });
  inner.append("g").selectAll("path")
    .data(crosses)
    .join("path")
      .attr("d", d3.symbol().type(d3.symbolTimes).size(34))
      .attr("transform", function(d) { return "translate(" + x(d[0]) + "," + y(d[1]) + ")"; })
      .attr("fill", "none").attr("stroke", markColor).attr("stroke-width", 1);

  // axes
  var bottom = g.append("g").attr("transform", "translate(0," + panelH + ")")
    .call(d3.axisBottom(x).tickValues(o.ticks).tickSizeInner(-5).tickSizeOuter(0).tickPadding(10));
  var top = g.append("g")
    .call(d3.axisTop(x).tickValues(o.ticks).tickSizeInner(-5).tickSizeOuter(0).tickFormat(""));
  var left = g.append("g")
    .call(d3.axisLeft(y).tickValues(thetaTicks).tickSizeInner(-7).tickSizeOuter(0).tickPadding(5)
      .tickFormat(o.yLabels ? d3.format("d") : ""));
  var right = g.append("g").attr("transform", "translate(" + o.w + ",0)")
    .call(d3.axisRight(y).tickValues(thetaTicks).tickSizeInner(-7).tickSizeOuter(0).tickFormat(""));

  if (o.minor) {
    var minor = d3.range(o.domain[0], o.domain[1] + 1, 5);
    g.append("g").attr("transform", "translate(0," + panelH + ")")
      .call(d3.axisBottom(x).tickValues(minor).tickSizeInner(-2.5).tickSizeOuter(0).tickFormat(""))
      .call(function(s) { s.select(".domain").remove(); s.selectAll("line").attr("stroke", markColor); });
    g.append("g")
      .call(d3.axisTop(x).tickValues(minor).tickSizeInner(-2.5).tickSizeOuter(0).tickFormat(""))
      .call(function(s) { s.select(".domain").remove(); s.selectAll("line").attr("stroke", markColor); });
  }

  [bottom, top, left, right].forEach(function(a) {
    a.select(".domain").remove();
    a.selectAll("line").attr("stroke", markColor).attr("stroke-width", 1.2);
    a.selectAll("text").style("font-size", "18.5px").attr("fill", "#111");
    a.attr("font-family", null);
  });

  g.append("rect")
    .attr("width", o.w).attr("height", panelH)
    .attr("fill", "none").attr("stroke", stroke).attr("stroke-width", 1.5);
}

function latPanel(col, row, rows, start, teal, cyan, contours, crosses) {
  drawPanel({
    left: colLeft[col], top: rowTop[row], w: panelW, domain: [-90, 90], ticks: latTicks,
    rows: rows, start: start, teal: teal, cyan: cyan, contours: contours, crosses: crosses,
    yLabels: col == 0
  });
}

function stjPanels(col, south, north) {
  drawPanel({
    left: colLeft[col], top: rowTop[2], w: subW, domain: [-60, 30], ticks: [-40, -20, 0, 20], minor: true,
    rows: south.rows, start: south.start, teal: south.teal, cyan: south.cyan, contours: south.contours,
    crosses: south.crosses, zeroTo: south.zeroTo, yLabels: col == 0
  });
  drawPanel({
    left: colLeft[col] + panelW - subW, top: rowTop[2], w: subW, domain: [-30, 60], ticks: [-20, 0, 20, 40], minor: true,
    rows: north.rows, start: north.start, teal: north.teal, cyan: north.cyan, contours: north.contours,
    crosses: north.crosses, zeroTo: north.zeroTo
  });
}

// row 1: latitude
latPanel(0, 0, mlsLat, -80, tealMlsLat, cyanMlsLat, contourMlsLat, crossMlsLat);
latPanel(1, 0, aceLat, -70, tealAceLat, cyanAceLat, contourAceLat, crossAceLat);
latPanel(2, 0, aircraftLat, -35, tealAircraftLat, cyanAircraftLat, contourAircraftLat, crossAircraftLat);
latPanel(3, 0, sondesLat, -90, tealSondesLat, cyanSondesLat, [], crossSondesLat);
latPanel(4, 0, lidarLat, -45, tealLidarLat, cyanLidarLat, [], crossLidarLat);

// row 2: equivalent latitude
latPanel(0, 1, mlsEql, -90, tealMlsEql, cyanMlsEql, contourMlsEql, crossMlsEql);
latPanel(1, 1, aceEql, -90, tealAceEql, cyanAceEql, contourAceEql, crossAceEql);
latPanel(2, 1, aircraftEql, -75, tealAircraftEql, cyanAircraftEql, contourAircraftEql, crossAircraftEql);
latPanel(3, 1, sondesEql, -85, tealSondesEql, cyanSondesEql, contourSondesEql, crossSondesEql);
latPanel(4, 1, lidarEql, -90, tealLidarEql, cyanLidarEql, contourLidarEql, crossLidarEql);

// row 3: jet-relative latitude, southern and northern hemisphere pairs
stjPanels(0,
  {rows: mlsStjS, start: -60, teal: tealMlsStjS, cyan: cyanMlsStjS, contours: contourMlsStjS, crosses: crossMlsStjS, zeroTo: 295},
  {rows: mlsStjN, start: -30, teal: tealMlsStjN, cyan: cyanMlsStjN, contours: contourMlsStjN, crosses: crossMlsStjN, zeroTo: 295});
stjPanels(1,
  {rows: aceStjS, start: -60, teal: tealAceStjS, cyan: cyanAceStjS, contours: contourAceStjS, crosses: crossAceStjS, zeroTo: 280},
  {rows: aceStjN, start: -30, teal: tealAceStjN, cyan: cyanAceStjN, contours: contourAceStjN, crosses: crossAceStjN, zeroTo: 280});
stjPanels(2,
  {rows: aircraftStjS, start: -15, teal: tealAircraftStjS, cyan: cyanAircraftStjS, contours: contourAircraftStjS, crosses: crossAircraftStjS, zeroTo: 300},
  {rows: aircraftStjN, start: -30, teal: tealAircraftStjN, cyan: cyanAircraftStjN, contours: contourAircraftStjN, crosses: crossAircraftStjN, zeroTo: 282});
stjPanels(3,
  {rows: sondesStjS, start: -60, teal: tealSondesStjS, cyan: cyanSondesStjS, contours: contourSondesStjS, crosses: crossSondesStjS, zeroTo: 295},
  {rows: sondesStjN, start: -30, teal: tealSondesStjN, cyan: cyanSondesStjN, contours: contourSondesStjN, crosses: crossSondesStjN, zeroTo: 282});
stjPanels(4,
  {rows: lidarStjS, start: -25, teal: tealLidarStjS, cyan: cyanLidarStjS, contours: contourLidarStjS, crosses: crossLidarStjS, zeroTo: 295},
  {rows: lidarStjN, start: -25, teal: tealLidarStjN, cyan: cyanLidarStjN, contours: contourLidarStjN, crosses: crossLidarStjN, zeroTo: 300});

// titles and axis names
colLeft.forEach(function(l, i) {
  var t = svg.append("text")
    .attr("x", l + panelW / 2).attr("y", 35)
    .attr("text-anchor", "middle").style("font-size", "23.2px");
  if (colTitle[i]) {
    t.text(colTitle[i]);
  } else {
    t.append("tspan").text("O");
    t.append("tspan").attr("dy", 5).style("font-size", "15px").text("3");
    t.append("tspan").attr("dy", -5).text("Sondes");
  }
  rowTop.forEach(function(top, r) {
    svg.append("text")
      .attr("x", l + panelW / 2).attr("y", top + panelH + 43)
      .attr("text-anchor", "middle").style("font-size", "18px")
      .text(rowXLabel[r]);
  });
});

rowTop.forEach(function(top) {
  svg.append("text")
    .attr("transform", "translate(31," + (top + panelH / 2) + ") rotate(-90)")
    .attr("text-anchor", "middle").style("font-size", "18px")
    .text("\u0398 [K]");
});

// colour bar
var barLeft = 143, barRight = 1987, barTop = 1015, barH = 22;
var barX = d3.scaleLinear().domain([0, binColors.length]).range([barLeft, barRight]);
var bar = svg.append("g");
bar.selectAll("rect")
  .data(binColors)
  .join("rect")
    .attr("x", function(d, i) { return barX(i); })
    .attr("width", function(d, i) { return barX(i + 1) - barX(i); })
    .attr("y", barTop).attr("height", barH)
    .attr("fill", function(d, i) { return binFill(i); })
    .attr("shape-rendering", "crispEdges");
var barAxis = bar.append("g")
  .attr("transform", "translate(0," + (barTop + barH) + ")")
  .call(d3.axisBottom(barX).tickValues(d3.range(binLabels.length)).tickSizeInner(-barH).tickSizeOuter(0).tickPadding(3)
    .tickFormat(function(i) { return binLabels[i]; }));
barAxis.select(".domain").remove();
barAxis.selectAll("line").attr("stroke", "#222").attr("stroke-width", 1);
barAxis.selectAll("text").style("font-size", "17.5px").attr("fill", "#111");
bar.append("rect")
  .attr("x", barLeft).attr("y", barTop)
  .attr("width", barRight - barLeft).attr("height", barH)
  .attr("fill", "none").attr("stroke", stroke).attr("stroke-width", 1.2);
svg.append("text")
  .attr("x", (barLeft + barRight) / 2).attr("y", 1081)
  .attr("text-anchor", "middle").style("font-size", "18.5px")
  .text("Ozone [ppmv]");
</script>
</body>
</html>
